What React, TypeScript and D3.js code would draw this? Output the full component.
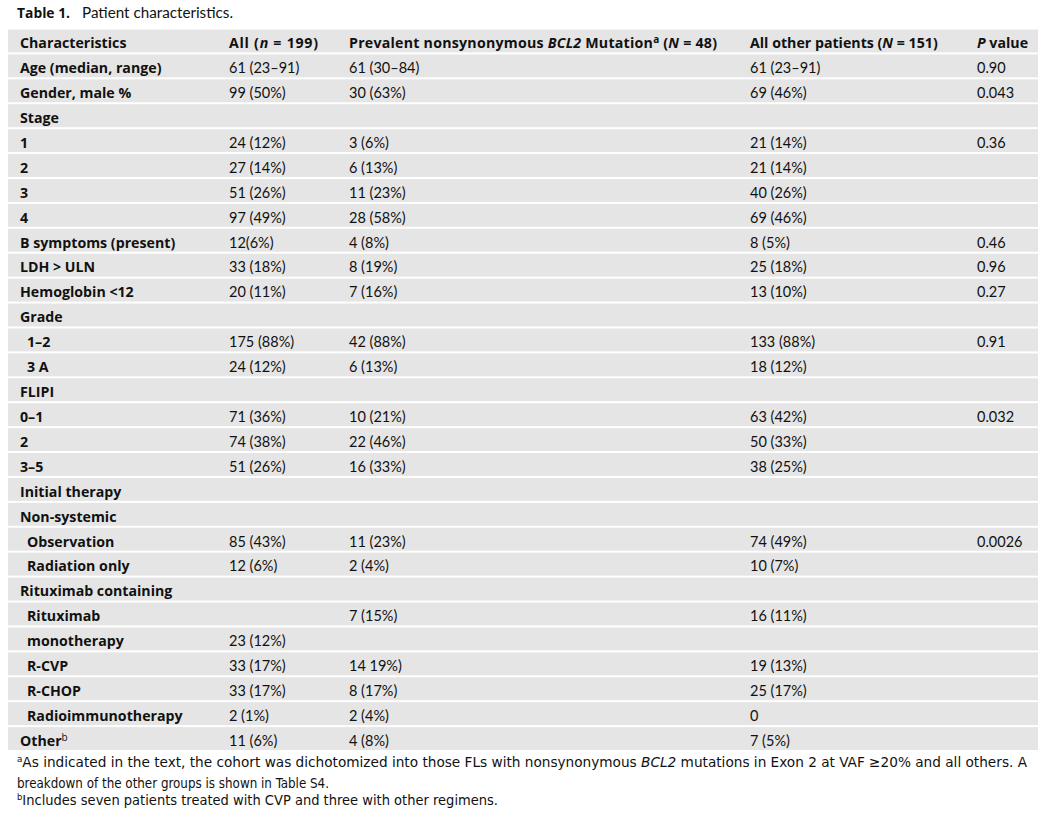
import React from "react";
import * as d3 from "d3";

// ---- Data ----
const characteristics = [
  "Age (median, range)", "Gender, male %", "Stage", "1", "2", "3", "4",
  "B symptoms (present)", "LDH > ULN", "Hemoglobin <12", "Grade", "1–2", "3 A",
  "FLIPI", "0–1", "2", "3–5", "Initial therapy", "Non-systemic", "Observation",
  "Radiation only", "Rituximab containing", "Rituximab", "monotherapy", "R-CVP",
  "R-CHOP", "Radioimmunotherapy", "Other",
];
const allPatients = [
  "61 (23–91)", "99 (50%)", "", "24 (12%)", "27 (14%)", "51 (26%)", "97 (49%)",
  "12(6%)", "33 (18%)", "20 (11%)", "", "175 (88%)", "24 (12%)",
  "", "71 (36%)", "74 (38%)", "51 (26%)", "", "", "85 (43%)",
  "12 (6%)", "", "", "23 (12%)", "33 (17%)",
  "33 (17%)", "2 (1%)", "11 (6%)",
];
const bcl2Mutated = [
  "61 (30–84)", "30 (63%)", "", "3 (6%)", "6 (13%)", "11 (23%)", "28 (58%)",
  "4 (8%)", "8 (19%)", "7 (16%)", "", "42 (88%)", "6 (13%)",
  "", "10 (21%)", "22 (46%)", "16 (33%)", "", "", "11 (23%)",
  "2 (4%)", "", "7 (15%)", "", "14 19%)",
  "8 (17%)", "2 (4%)", "4 (8%)",
];
const otherPatients = [
  "61 (23–91)", "69 (46%)", "", "21 (14%)", "21 (14%)", "40 (26%)", "69 (46%)",
  "8 (5%)", "25 (18%)", "13 (10%)", "", "133 (88%)", "18 (12%)",
  "", "63 (42%)", "50 (33%)", "38 (25%)", "", "", "74 (49%)",
  "10 (7%)", "", "16 (11%)", "", "19 (13%)",
  "25 (17%)", "0", "7 (5%)",
];
const pValues = [
  "0.90", "0.043", "", "0.36", "", "", "",
  "0.46", "0.96", "0.27", "", "0.91", "",
  "", "0.032", "", "", "", "", "0.0026",
  "", "", "", "", "",
  "", "", "",
];
const subItems = ["1–2", "3 A", "Observation", "Radiation only", "Rituximab", "monotherapy", "R-CVP", "R-CHOP", "Radioimmunotherapy"];
const superscripts: Record<string, string> = { Other: "b" };
const columnKeys = ["label", "all", "bcl2", "other", "p"];

const FONT = "Lato, 'Noto Sans', sans-serif";
const BOLD = "'Open Sans', 'Noto Sans', sans-serif";
const NARROW = "'Liberation Sans Narrow', 'DejaVu Sans Condensed', sans-serif";

export default function App() {
  const W = 1047, H = 813;
  const rowKeys = d3.range(characteristics.length + 1);
  const y = d3.scaleBand<number>().domain(rowKeys).range([29.5, 752]).paddingInner(0);
  const x = d3.scaleOrdinal<string, number>().domain(columnKeys).range([20, 229, 349, 750, 977]);
  const bw = y.bandwidth();
  const fs = 14.5;
  const base = bw / 2 + 6.3;

  const cols = [characteristics, allPatients, bcl2Mutated, otherPatients, pValues];

  return (
    <svg width={W} height={H} style={{ position: "absolute", left: 0, top: 0, background: "#fff" }}
      fontFamily={FONT} fontSize={fs} fill="#111">
      <text x={17} y={17.5} fontWeight="bold" fontFamily={BOLD} fontSize={13.5} textLength={53} lengthAdjust="spacingAndGlyphs">Table 1.</text>
      <text x={82} y={17.5} fontSize={14.5} textLength={151} lengthAdjust="spacingAndGlyphs">Patient characteristics.</text>

      {rowKeys.map((r) => (
        <rect key={r} x={8} width={1030} y={y(r)!} height={bw - 2} fill="#e5e5e5" />
      ))}

      {/* header */}
      <g fontWeight="bold" fontFamily={BOLD} fontSize={14.2} transform={`translate(0,${y(0)! + base})`}>
        <text x={x("label")}>Characteristics</text>
        <text x={x("all")} textLength={89} lengthAdjust="spacing">All (<tspan fontStyle="italic">n</tspan> = 199)</text>
        <text x={x("bcl2")} textLength={368} lengthAdjust="spacing">Prevalent nonsynonymous <tspan fontStyle="italic">BCL2</tspan> Mutation<tspan fontSize={10} dy={-5}>a</tspan><tspan dy={5}> (</tspan><tspan fontStyle="italic">N</tspan> = 48)</text>
        <text x={x("other")}>All other patients (<tspan fontStyle="italic">N</tspan> = 151)</text>
        <text x={x("p")}><tspan fontStyle="italic">P</tspan> value</text>
      </g>

      {characteristics.map((lab, i) => {
        const cy = y(i + 1)! + base;
        return (
          <g key={i} transform={`translate(0,${cy})`}>
            <text x={x("label") + (subItems.includes(lab) ? 7 : 0)} fontWeight="bold" fontFamily={BOLD} fontSize={14.2}>
              {lab}
              {superscripts[lab] ? <tspan fontSize={10} dy={-5} fontWeight="normal">{superscripts[lab]}</tspan> : null}
            </text>
            {cols.slice(1).map((c, j) => (
              <text key={j} x={x(columnKeys[j + 1])}>{c[i]}</text>
            ))}
          </g>
        );
      })}

      <g fontFamily={NARROW} fontSize={14}>
        <text x={17} y={767} textLength={1010} lengthAdjust="spacingAndGlyphs">
          <tspan fontSize={9} dy={-5}>a</tspan><tspan dy={5}>As indicated in the text, the cohort was dichotomized into those FLs with nonsynonymous </tspan><tspan fontStyle="italic">BCL2</tspan> mutations in Exon 2 at VAF ≥20% and all others. A
        </text>
        <text x={17} y={788} textLength={312} lengthAdjust="spacingAndGlyphs">breakdown of the other groups is shown in Table S4.</text>
        <text x={17} y={805} textLength={481} lengthAdjust="spacingAndGlyphs">
          <tspan fontSize={9} dy={-5}>b</tspan><tspan dy={5}>Includes seven patients treated with CVP and three with other regimens.</tspan>
        </text>
      </g>
    </svg>
  );
}
